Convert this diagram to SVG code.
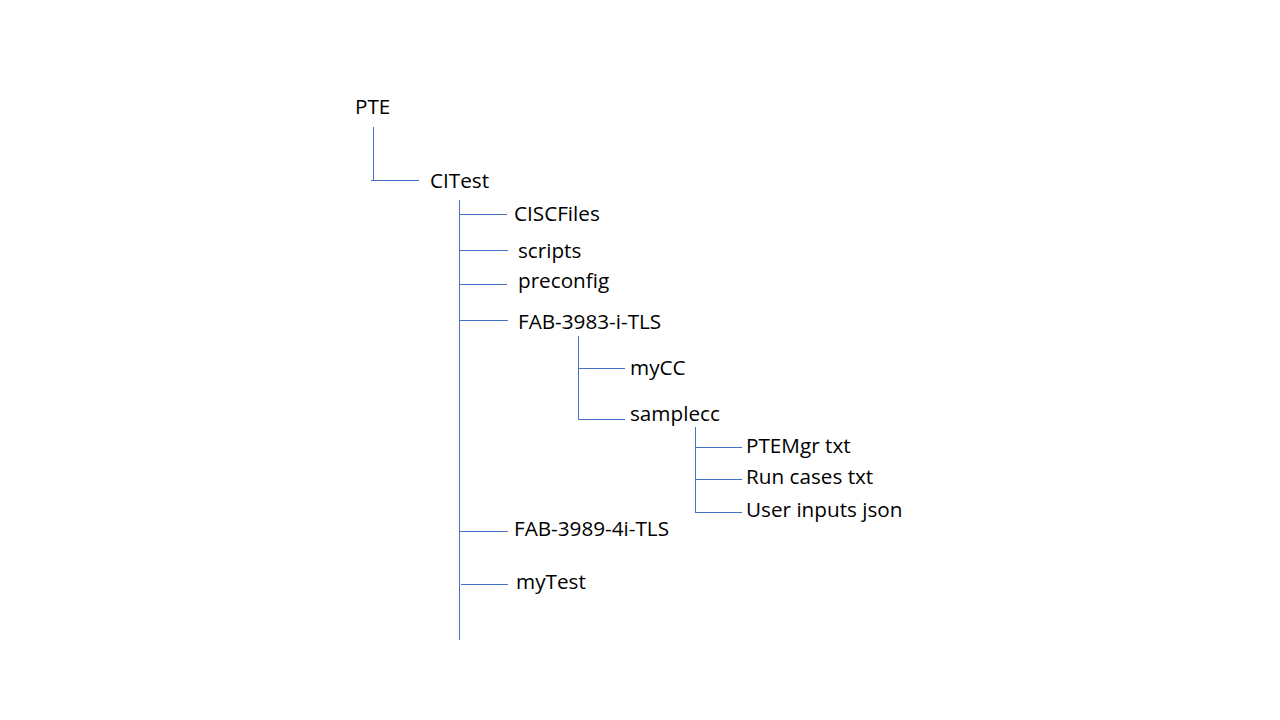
<svg xmlns="http://www.w3.org/2000/svg" width="1280" height="720" viewBox="0 0 1280 720">
<style>
.t{font-family:"Open Sans","Noto Sans",sans-serif;font-size:20.7px;fill:#000}
.c line{stroke:#4472C4;stroke-width:1}
</style>
<rect width="1280" height="720" fill="#fff"/>
<g class="c" id="connectors">
<line x1="373.5" y1="127" x2="373.5" y2="181"/>
<line x1="371" y1="180.5" x2="419" y2="180.5"/>
<line x1="459.5" y1="200" x2="459.5" y2="640"/>
<line x1="459" y1="214.5" x2="507" y2="214.5"/>
<line x1="459" y1="250.5" x2="508" y2="250.5"/>
<line x1="459" y1="284.5" x2="507" y2="284.5"/>
<line x1="459" y1="320.5" x2="508" y2="320.5"/>
<line x1="459" y1="531.5" x2="508" y2="531.5"/>
<line x1="461" y1="584.5" x2="508" y2="584.5"/>
<line x1="578.5" y1="336" x2="578.5" y2="420"/>
<line x1="578" y1="368.5" x2="625" y2="368.5"/>
<line x1="578" y1="419.5" x2="625" y2="419.5"/>
<line x1="695.5" y1="427" x2="695.5" y2="512"/>
<line x1="695" y1="447.5" x2="742" y2="447.5"/>
<line x1="695" y1="479.5" x2="742" y2="479.5"/>
<line x1="695" y1="512.5" x2="742" y2="512.5"/>
</g>
<g id="n-pte"><text class="t" x="355" y="114">PTE</text></g>
<g id="n-citest"><text class="t" x="430" y="188">CITest</text></g>
<g id="n-ciscfiles"><text class="t" x="514" y="221">CISCFiles</text></g>
<g id="n-scripts"><text class="t" x="518" y="258">scripts</text></g>
<g id="n-preconfig"><text class="t" x="518" y="288">preconfig</text></g>
<g id="n-fab3983"><text class="t" x="518" y="329">FAB-3983-i-TLS</text></g>
<g id="n-mycc"><text class="t" x="630" y="375">myCC</text></g>
<g id="n-samplecc"><text class="t" x="630" y="421">samplecc</text></g>
<g id="n-ptemgr"><text class="t" x="746" y="453">PTEMgr txt</text></g>
<g id="n-runcases"><text class="t" x="746" y="484">Run cases txt</text></g>
<g id="n-userinputs"><text class="t" x="746" y="517">User inputs json</text></g>
<g id="n-fab3989"><text class="t" x="514" y="536">FAB-3989-4i-TLS</text></g>
<g id="n-mytest"><text class="t" x="516" y="589">myTest</text></g>
</svg>
